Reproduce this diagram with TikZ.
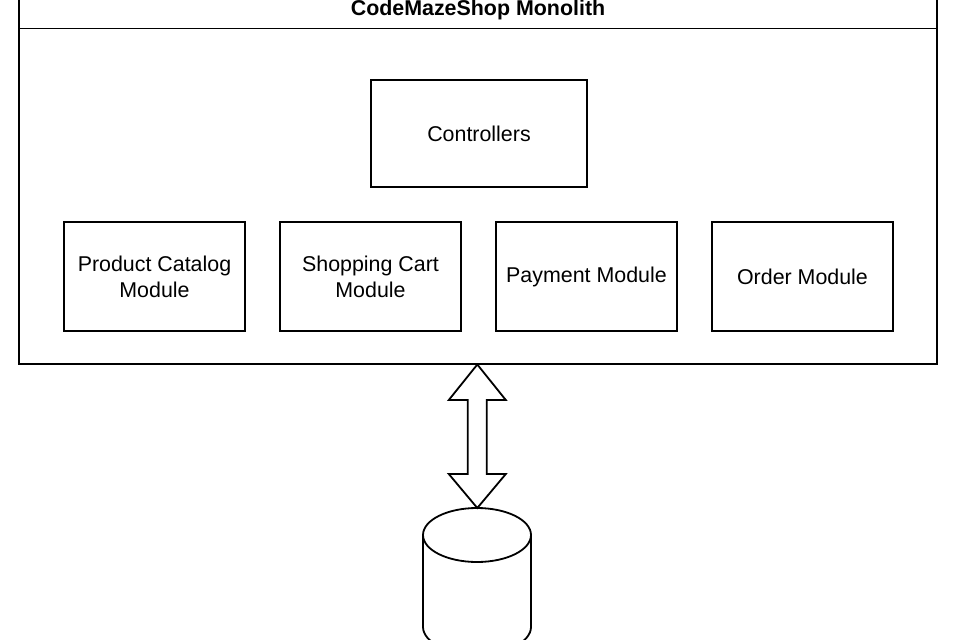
\documentclass[tikz,border=0pt]{standalone}
\usepackage{fontspec}
\setmainfont{Liberation Sans}
\usetikzlibrary{calc}
\begin{document}
\begin{tikzpicture}[x=1pt,y=-1pt,line width=1.8pt,line join=miter,
  lbl/.style={font=\fontsize{21.4}{25.7}\selectfont, align=center},
  modbox/.style={draw, lbl, line width=1.8pt, inner sep=0pt, minimum width=181pt, minimum height=109pt},
  ctrlbox/.style={draw, lbl, line width=1.8pt, inner sep=0pt, minimum width=216.6pt, minimum height=107.3pt},
  blockarrow/.style={draw, line width=1.8pt, fill=white, line join=miter}
]
\useasboundingbox (0,0) rectangle (956,640);
\begin{scope}
\clip (0,0) rectangle (956,640);
% container
\coordinate (monoNW) at (19,-13);
\coordinate (monoSE) at (937,364);
\draw (monoNW) rectangle (monoSE);
\draw (19,28.5) -- (937,28.5);
\node[font=\bfseries\fontsize{21.4}{25.7}\selectfont, anchor=base] (title) at (478,15.5) {CodeMazeShop Monolith};
% boxes
\node[ctrlbox] (ctrl) at (479,133.6) {Controllers};
\node[modbox] (catalog) at (154.5,276.5) {Product Catalog\\Module};
\node[modbox] (cart) at (370.5,276.5) {Shopping Cart\\Module};
\node[modbox] (payment) at (586.5,276.5) {Payment Module};
\node[modbox] (order) at (802.5,276.5) {Order Module};
% double block arrow
\coordinate (atop) at (477.3,364.5);
\coordinate (abot) at (477.3,508);
\draw[blockarrow] (atop) -- ($(atop)+(28.5,35.5)$) -- ($(atop)+(9.5,35.5)$)
  -- ($(abot)+(9.5,-34)$) -- ($(abot)+(28.5,-34)$) -- (abot)
  -- ($(abot)+(-28.5,-34)$) -- ($(abot)+(-9.5,-34)$)
  -- ($(atop)+(-9.5,35.5)$) -- ($(atop)+(-28.5,35.5)$) -- cycle;
% database cylinder
\coordinate (db) at (477,535);
\draw ($(db)+(-54,0)$) -- ($(db)+(-54,92)$) arc[start angle=180, end angle=360, x radius=54pt, y radius=27pt] -- ($(db)+(54,0)$);
\draw (db) ellipse [x radius=54pt, y radius=27pt];
\end{scope}
\end{tikzpicture}
\end{document}
